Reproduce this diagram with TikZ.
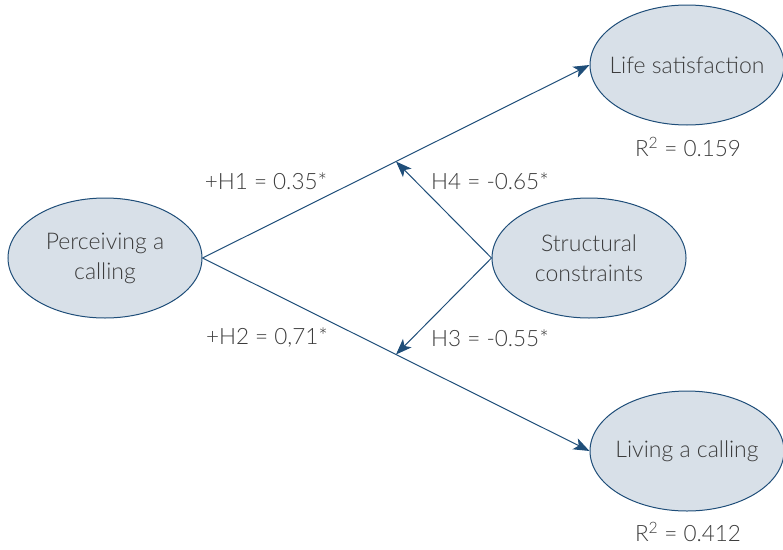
\documentclass[tikz,border=0pt]{standalone}
\usepackage{fontspec}
\setmainfont{Lato}[UprightFont={* Light}]
\usetikzlibrary{arrows.meta,shapes.geometric,calc}
\definecolor{linkblue}{RGB}{31,78,121}
\definecolor{ellfill}{RGB}{216,224,232}
\definecolor{txtgray}{RGB}{60,60,60}

\begin{document}
\begin{tikzpicture}[x=1pt,y=-1pt,
  construct/.style={ellipse,draw=linkblue,fill=ellfill,line width=1pt,
    minimum width=194pt,minimum height=120pt,inner xsep=-14pt,inner ysep=-14pt,
    align=center,text=txtgray,font=\fontsize{23}{30}\selectfont},
  coef/.style={text=txtgray,font=\fontsize{22.5}{26}\selectfont},
  link/.style={draw=linkblue,line width=1pt,-{Stealth[length=16pt,width=12pt,inset=4pt]}}]
  \useasboundingbox (0,0) rectangle (783,549);
  \node[construct] (PC) at (105,258) {Perceiving a\\calling};
  \node[construct] (LS) at (687,65)  {Life satisfaction};
  \node[construct] (LC) at (687,451) {Living a calling};
  \node[construct] (SC) at (589,258) {Structural\\constraints};
 \path
  (PC.east)
    edge[link] (LS.west)
    edge[link] (LC.west);
  \coordinate (m1) at ($(PC.east)!0.5!(LS.west)$);
  \coordinate (m2) at ($(PC.east)!0.5!(LC.west)$);
 \path
  (SC.west)
    edge[link] (m1)
    edge[link] (m2);

  \node[coef] (h1) at (266,181) {+H1 = 0.35*};
  \node[coef] (h2) at (267,338) {+H2 = 0,71*};
  \node[coef] (h4) at (490,181) {H4 = -0.65*};
  \node[coef] (h3) at (490,338) {H3 = -0.55*};
  \node[coef] (r1) at (688,147) {R\textsuperscript{2} = 0.159};
  \node[coef] (r2) at (688,532) {R\textsuperscript{2} = 0.412};
\end{tikzpicture}
\end{document}
